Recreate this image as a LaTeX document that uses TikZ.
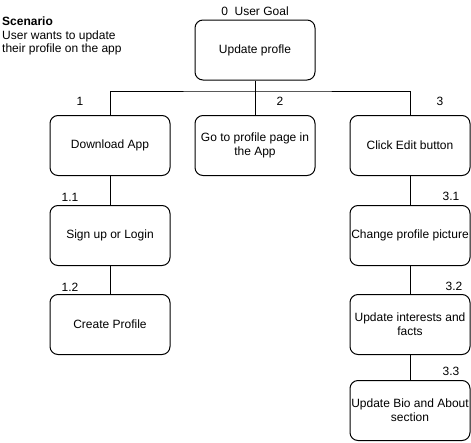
\documentclass[tikz,border=0pt]{standalone}
\usepackage{fontspec}
\setmainfont{Liberation Sans}
\begin{document}
\begin{tikzpicture}[x=1pt,y=-1pt,
  box/.style={draw=black,line width=1pt,rounded corners=8pt,minimum width=120pt,minimum height=60pt,align=center,inner sep=1pt,font=\fontsize{12pt}{14pt}\selectfont},
  lbl/.style={inner sep=0pt,font=\fontsize{12pt}{14pt}\selectfont},
  conn/.style={draw=black,line width=1pt}]
\useasboundingbox (0,0) rectangle (471,442);
\node[anchor=north west,align=left,inner sep=0pt,font=\fontsize{12pt}{13.5pt}\selectfont] (scen) at (2,17) {\textbf{Scenario}\\User wants to update\\their profile on the app};
\node[lbl] (goal) at (255,11) {0\ \ User Goal};
\node[box] (top) at (255,50) {Update profle};
\node[box] (b1) at (110,145.5) {Download App};
\node[box] (b2) at (255,145.5) {Go to profile page in\\the App};
\node[box] (b3) at (410,145.5) {Click Edit button};
\node[box] (b11) at (110,235.5) {Sign up or Login};
\node[box] (b12) at (110,324.5) {Create Profile};
\node[box] (b31) at (410,235.5) {Change profile picture};
\node[box] (b32) at (410,324.5) {Update interests and\\facts};
\node[box] (b33) at (410,410.5) {Update Bio and About\\section};
\node[lbl] (l1) at (80,101) {1};
\node[lbl] (l2) at (280,101) {2};
\node[lbl] (l3) at (440,101) {3};
\node[lbl] (l11) at (70,197) {1.1};
\node[lbl] (l12) at (70,287) {1.2};
\node[lbl] (l31) at (451,196) {3.1};
\node[lbl] (l32) at (454,286) {3.2};
\node[lbl] (l33) at (451,371) {3.3};
\coordinate (bus) at (255,91);
\draw[conn] (top) -- (b2);
\draw[conn] (b1.north) |- (bus) -| (b3.north);
\draw[conn] (b1) -- (b11);
\draw[conn] (b11) -- (b12);
\draw[conn] (b3) -- (b31);
\draw[conn] (b31) -- (b32);
\draw[conn] (b32) -- (b33);
\end{tikzpicture}
\end{document}
